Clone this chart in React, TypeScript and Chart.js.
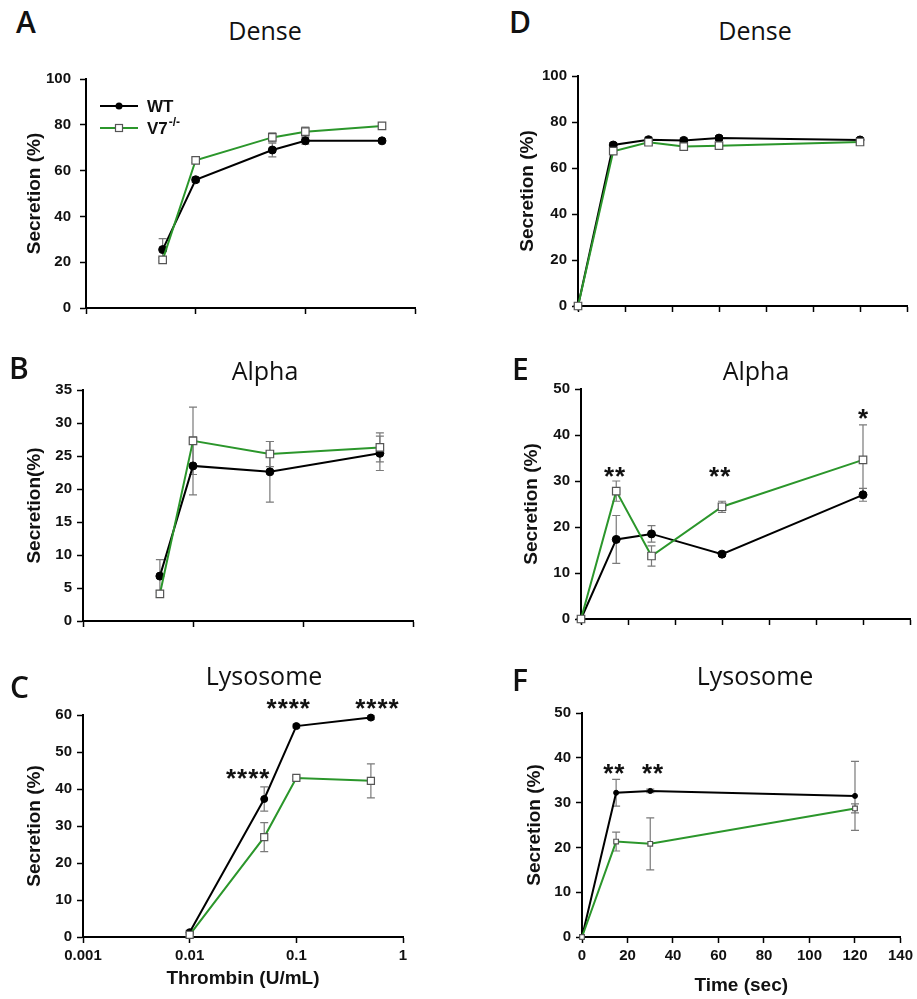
import React, { useEffect, useRef } from 'react';
import { Chart, registerables } from 'chart.js';

Chart.register(...registerables);

const GREEN = '#2b962b';
const FAM = "'Liberation Sans', Arial, sans-serif";
const TICK_FONT = { family: FAM, size: 15, weight: 'bold' as const };
const AXIS_TITLE_FONT = { family: FAM, size: 19, weight: 'bold' as const };

// ---------- shared ticks ----------
const logTicks = [0.001, 0.01, 0.1, 1];
const timeTicks = [0, 20, 40, 60, 80, 100, 120, 140];

// ---------- Panel A: Dense vs thrombin dose ----------
const doseA = [0.005, 0.01, 0.05, 0.1, 0.5];
const wtA = [25.5, 56, 69, 73, 73];
const wtErrA = [4.8, 1, 3, 1.5, 0.8];
const koA = [21, 64.5, 74.5, 77, 79.5];
const koErrA = [1, 1, 2, 2, 1];

// ---------- Panel B: Alpha vs thrombin dose ----------
const doseB = [0.005, 0.01, 0.05, 0.5];
const wtB = [6.8, 23.5, 22.6, 25.4];
const wtErrB = [2.5, 4.4, 4.6, 2.6];
const koB = [4.1, 27.3, 25.3, 26.3];
const koErrB = [0.5, 5.1, 1.9, 2.2];

// ---------- Panel C: Lysosome vs thrombin dose ----------
const doseC = [0.01, 0.05, 0.1, 0.5];
const wtC = [1.3, 37.3, 57, 59.3];
const wtErrC = [0.5, 3.3, 0.5, 0.5];
const koC = [0.6, 27, 43, 42.2];
const koErrC = [0.5, 3.9, 0.5, 4.6];
const starXC = [0.035, 0.084, 0.57];
const starYC = [44.7, 63.6, 63.6];
const starTextC = ['****', '****', '****'];

// ---------- Panel D: Dense vs time ----------
const timeD = [0, 15, 30, 45, 60, 120];
const wtD = [0, 70, 72.3, 72, 73, 72.2];
const wtErrD = [0, 1, 1, 1, 1, 1];
const koD = [0, 67.3, 71.2, 69.3, 69.7, 71.3];
const koErrD = [0, 1, 1, 1, 1, 1];

// ---------- Panel E: Alpha vs time ----------
const timeE = [0, 15, 30, 60, 120];
const wtE = [0, 17.3, 18.5, 14.1, 27];
const wtErrE = [0, 5.2, 1.8, 0.5, 1.4];
const koE = [0, 27.8, 13.7, 24.4, 34.6];
const koErrE = [0, 2.2, 2.2, 1.2, 7.6];
const starXE = [14.3, 59, 120];
const starYE = [32.5, 32.5, 45.1];
const starTextE = ['**', '**', '*'];

// ---------- Panel F: Lysosome vs time ----------
const timeF = [0, 15, 30, 120];
const wtF = [0, 32.2, 32.6, 31.5];
const wtErrF = [0, 3, 0.4, 7.7];
const koF = [0, 21.3, 20.8, 28.7];
const koErrF = [0, 2.1, 5.8, 1];
const starXF = [14, 31];
const starYF = [37.9, 37.9];
const starTextF = ['**', '**'];

// ---------- legend ----------
const legendLabels = ['WT', 'V7'];
const legendSup = ['', '-/-'];

type PanelCfg = {
  left: number; top: number; width: number; height: number;
  padTop: number; padRight: number; yWidth: number; xHeight: number;
  xType: 'logarithmic' | 'linear'; xMin: number; xMax: number; xTicks: number[];
  showXLabels: boolean; xTitle?: string; xTitlePad?: number;
  yMax: number; yStep: number; yTitle: string; yTitlePad: number; yLabelPad: number;
  xs: number[]; wt: number[]; wtErr: number[]; ko: number[]; koErr: number[];
  wtR: number; koR: number;
  stars?: { x: number[]; y: number[]; t: string[] };
  legend?: boolean;
};

function Panel({ cfg }: { cfg: PanelCfg }) {
  const ref = useRef<HTMLCanvasElement>(null);
  useEffect(() => {
    const c = cfg;
    const errPlugin = {
      id: 'errBars',
      beforeDatasetsDraw(chart: any) {
        const { ctx, scales } = chart;
        const xs = scales.x, ys = scales.y;
        ctx.save();
        ctx.strokeStyle = '#7a7a7a';
        ctx.lineWidth = 1.2;
        const groups: [number[], number[]][] = [[c.wt, c.wtErr], [c.ko, c.koErr]];
        for (const [vals, errs] of groups) {
          vals.forEach((v, i) => {
            const e = errs[i];
            if (!e) return;
            const px = xs.getPixelForValue(c.xs[i]);
            const y1 = ys.getPixelForValue(v + e);
            const y2 = ys.getPixelForValue(Math.max(0, v - e));
            ctx.beginPath();
            ctx.moveTo(px, y1); ctx.lineTo(px, y2);
            ctx.moveTo(px - 4, y1); ctx.lineTo(px + 4, y1);
            ctx.moveTo(px - 4, y2); ctx.lineTo(px + 4, y2);
            ctx.stroke();
          });
        }
        ctx.restore();
      },
    };
    const starPlugin = {
      id: 'stars',
      afterDatasetsDraw(chart: any) {
        if (!c.stars) return;
        const { ctx, scales } = chart;
        ctx.save();
        ctx.fillStyle = '#111';
        ctx.font = `bold 26px ${FAM}`;
        (ctx as any).letterSpacing = '1px';
        ctx.textAlign = 'center';
        ctx.textBaseline = 'alphabetic';
        c.stars.t.forEach((t, i) => {
          const px = scales.x.getPixelForValue(c.stars!.x[i]);
          const py = scales.y.getPixelForValue(c.stars!.y[i]);
          ctx.fillText(t, px + 0.5, py + 15);
        });
        ctx.restore();
      },
    };
    const legendPlugin = {
      id: 'customLegend',
      afterDraw(chart: any) {
        if (!c.legend) return;
        const { ctx, chartArea } = chart;
        const x0 = chartArea.left + 14, x1 = chartArea.left + 52, xm = (x0 + x1) / 2;
        legendLabels.forEach((lab, i) => {
          const y = chartArea.top + 27 + i * 22;
          ctx.save();
          ctx.strokeStyle = i === 0 ? '#000' : GREEN;
          ctx.lineWidth = 2;
          ctx.beginPath(); ctx.moveTo(x0, y); ctx.lineTo(x1, y); ctx.stroke();
          if (i === 0) {
            ctx.fillStyle = '#000';
            ctx.beginPath(); ctx.arc(xm, y, 3.5, 0, Math.PI * 2); ctx.fill();
          } else {
            ctx.fillStyle = '#fff';
            ctx.strokeStyle = '#555';
            ctx.lineWidth = 1.2;
            ctx.fillRect(xm - 3.5, y - 3.5, 7, 7);
            ctx.strokeRect(xm - 3.5, y - 3.5, 7, 7);
          }
          ctx.fillStyle = '#111';
          ctx.font = `bold 17px ${FAM}`;
          ctx.textBaseline = 'middle';
          ctx.textAlign = 'left';
          ctx.fillText(lab, x1 + 9, y + 1);
          if (legendSup[i]) {
            const w = ctx.measureText(lab).width;
            ctx.font = `bold 12px ${FAM}`;
            ctx.fillText(legendSup[i], x1 + 9 + w + 1, y - 5);
          }
          ctx.restore();
        });
      },
    };

    const chart = new Chart(ref.current as HTMLCanvasElement, {
      type: 'line',
      data: {
        datasets: [
          {
            label: 'WT',
            data: c.xs.map((x, i) => ({ x, y: c.wt[i] })),
            borderColor: '#000',
            borderWidth: 2,
            pointStyle: 'circle',
            pointRadius: c.wtR,
            pointBackgroundColor: '#000',
            pointBorderColor: '#000',
            pointBorderWidth: 1,
            tension: 0,
            clip: false,
            order: 2,
          },
          {
            label: 'V7-/-',
            data: c.xs.map((x, i) => ({ x, y: c.ko[i] })),
            borderColor: GREEN,
            borderWidth: 2,
            pointStyle: 'rect',
            pointRadius: c.koR,
            pointBackgroundColor: '#fff',
            pointBorderColor: '#555',
            pointBorderWidth: 1.2,
            tension: 0,
            clip: false,
            order: 1,
          },
        ] as any,
      },
      options: {
        responsive: false,
        animation: false,
        devicePixelRatio: 1,
        layout: { padding: { top: c.padTop, right: c.padRight, left: 0, bottom: 0 } },
        plugins: {
          legend: { display: false },
          tooltip: { enabled: false },
          title: { display: false },
        },
        scales: {
          x: {
            type: c.xType,
            min: c.xMin,
            max: c.xMax,
            afterBuildTicks: (s: any) => {
              s.ticks = c.xTicks.map((v) => ({ value: v }));
            },
            afterFit: (s: any) => {
              s.height = c.xHeight;
            },
            ticks: {
              display: c.showXLabels,
              autoSkip: false,
              maxRotation: 0,
              font: TICK_FONT,
              color: '#111',
              padding: 4,
              callback: (v: any) => String(v),
            },
            grid: { drawOnChartArea: false, drawTicks: true, tickLength: 6, tickColor: '#000', tickWidth: 1.5 },
            border: { color: '#000', width: 2 },
            title: c.xTitle
              ? { display: true, text: c.xTitle, font: AXIS_TITLE_FONT, color: '#111', padding: { top: 0, bottom: c.xTitlePad ?? 0 } }
              : { display: false },
          } as any,
          y: {
            type: 'linear',
            min: 0,
            max: c.yMax,
            afterFit: (s: any) => {
              s.width = c.yWidth;
            },
            ticks: { stepSize: c.yStep, font: TICK_FONT, color: '#111', padding: c.yLabelPad },
            grid: { drawOnChartArea: false, drawTicks: true, tickLength: 6, tickColor: '#000', tickWidth: 1.5 },
            border: { color: '#000', width: 2 },
            title: { display: true, text: c.yTitle, font: AXIS_TITLE_FONT, color: '#111', padding: { top: c.yTitlePad, bottom: 0 } },
          } as any,
        },
      },
      plugins: [errPlugin, starPlugin, legendPlugin],
    });
    return () => chart.destroy();
  }, [cfg]);
  return (
    <canvas
      ref={ref}
      width={cfg.width}
      height={cfg.height}
      style={{ position: 'absolute', left: cfg.left, top: cfg.top, width: cfg.width, height: cfg.height }}
    />
  );
}

const panels: PanelCfg[] = [
  {
    left: 0, top: 50, width: 450, height: 280, padTop: 29, padRight: 35, yWidth: 86, xHeight: 22,
    xType: 'logarithmic', xMin: 0.001, xMax: 1, xTicks: logTicks, showXLabels: false,
    yMax: 100, yStep: 20, yTitle: 'Secretion (%)', yTitlePad: 23.6, yLabelPad: 9,
    xs: doseA, wt: wtA, wtErr: wtErrA, ko: koA, koErr: koErrA, wtR: 4, koR: 5.3, legend: true,
  },
  {
    left: 0, top: 355, width: 450, height: 290, padTop: 35, padRight: 37, yWidth: 83, xHeight: 24,
    xType: 'logarithmic', xMin: 0.001, xMax: 1, xTicks: logTicks, showXLabels: false,
    yMax: 35, yStep: 5, yTitle: 'Secretion(%)', yTitlePad: 23.6, yLabelPad: 5,
    xs: doseB, wt: wtB, wtErr: wtErrB, ko: koB, koErr: koErrB, wtR: 4, koR: 5.3,
  },
  {
    left: 0, top: 685, width: 450, height: 314, padTop: 30, padRight: 47, yWidth: 83, xHeight: 62,
    xType: 'logarithmic', xMin: 0.001, xMax: 1, xTicks: logTicks, showXLabels: true,
    xTitle: 'Thrombin (U/mL)', xTitlePad: 8.6,
    yMax: 60, yStep: 10, yTitle: 'Secretion (%)', yTitlePad: 23.6, yLabelPad: 5,
    xs: doseC, wt: wtC, wtErr: wtErrC, ko: koC, koErr: koErrC, wtR: 3.5, koR: 5,
    stars: { x: starXC, y: starYC, t: starTextC },
  },
  {
    left: 460, top: 50, width: 457, height: 280, padTop: 26, padRight: 10, yWidth: 118, xHeight: 24,
    xType: 'linear', xMin: 0, xMax: 140, xTicks: timeTicks, showXLabels: false,
    yMax: 100, yStep: 20, yTitle: 'Secretion (%)', yTitlePad: 56.6, yLabelPad: 5,
    xs: timeD, wt: wtD, wtErr: wtErrD, ko: koD, koErr: koErrD, wtR: 4, koR: 5.3,
  },
  {
    left: 460, top: 355, width: 457, height: 290, padTop: 34, padRight: 7, yWidth: 121, xHeight: 26,
    xType: 'linear', xMin: 0, xMax: 140, xTicks: timeTicks, showXLabels: false,
    yMax: 50, yStep: 10, yTitle: 'Secretion (%)', yTitlePad: 60.6, yLabelPad: 5,
    xs: timeE, wt: wtE, wtErr: wtErrE, ko: koE, koErr: koErrE, wtR: 4, koR: 5.3,
    stars: { x: starXE, y: starYE, t: starTextE },
  },
  {
    left: 460, top: 685, width: 457, height: 314, padTop: 28, padRight: 15, yWidth: 122, xHeight: 62,
    xType: 'linear', xMin: 0, xMax: 140, xTicks: timeTicks, showXLabels: true,
    xTitle: 'Time (sec)', xTitlePad: 1.6,
    yMax: 50, yStep: 10, yTitle: 'Secretion (%)', yTitlePad: 63.6, yLabelPad: 5,
    xs: timeF, wt: wtF, wtErr: wtErrF, ko: koF, koErr: koErrF, wtR: 2.5, koR: 3.3,
    stars: { x: starXF, y: starYF, t: starTextF },
  },
];

const letters = [
  { t: 'A', left: 16, top: 7 },
  { t: 'B', left: 9, top: 353 },
  { t: 'C', left: 10, top: 672 },
  { t: 'D', left: 509, top: 7 },
  { t: 'E', left: 512, top: 354 },
  { t: 'F', left: 512, top: 665 },
];

const titles = [
  { t: 'Dense', cx: 265, top: 17.6 },
  { t: 'Alpha', cx: 265, top: 357.6 },
  { t: 'Lysosome', cx: 264, top: 662.6 },
  { t: 'Dense', cx: 755, top: 17.6 },
  { t: 'Alpha', cx: 756, top: 357.6 },
  { t: 'Lysosome', cx: 755, top: 662.6 },
];

export default function App() {
  return (
    <div style={{ position: 'absolute', left: 0, top: 0, width: 917, height: 999, background: '#fff', overflow: 'hidden' }}>
      {panels.map((p, i) => (
        <Panel key={i} cfg={p} />
      ))}
      {letters.map((l, i) => (
        <div
          key={'l' + i}
          style={{ position: 'absolute', left: l.left, top: l.top, fontFamily: "'Open Sans', sans-serif", fontSize: 30, lineHeight: 1, color: '#111', fontWeight: 600 }}
        >
          {l.t}
        </div>
      ))}
      {titles.map((t, i) => (
        <div
          key={'t' + i}
          style={{ position: 'absolute', left: t.cx - 100, width: 200, top: t.top, textAlign: 'center', fontFamily: "'Open Sans', sans-serif", fontSize: 25, lineHeight: 1, color: '#111' }}
        >
          {t.t}
        </div>
      ))}
    </div>
  );
}
